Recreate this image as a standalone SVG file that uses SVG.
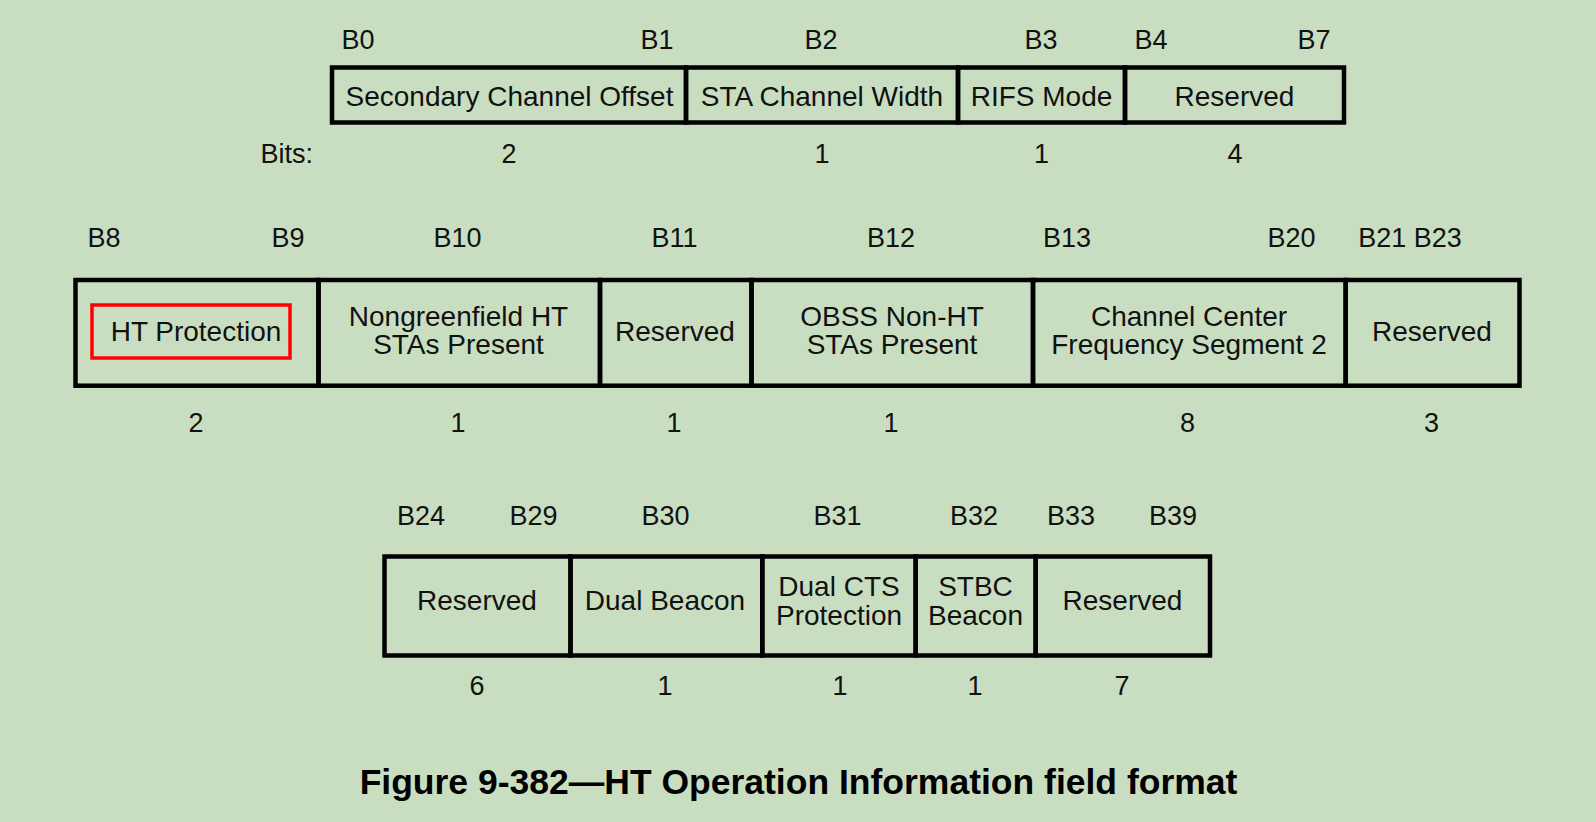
<svg xmlns="http://www.w3.org/2000/svg" width="1596" height="822" viewBox="0 0 1596 822">
  <style>
    .cell { fill: none; stroke: #000; stroke-width: 4.5; }
    .t { font-family: "Liberation Sans", Arial, sans-serif; font-size: 28px; fill: #111; text-anchor: middle; }
    .lbl { font-family: "Liberation Sans", Arial, sans-serif; font-size: 27px; fill: #111; text-anchor: middle; }
    .title { font-family: "Liberation Sans", Arial, sans-serif; font-size: 35.5px; font-weight: bold; fill: #000; text-anchor: middle; }
    .hl { fill: none; stroke: #f00; stroke-width: 3.5; }
  </style>
  <rect x="0" y="0" width="1596" height="822" fill="#C9DEC1"/>

  <!-- Row 1 -->
  <g id="row1-labels">
    <text class="lbl" x="358" y="48.5">B0</text>
    <text class="lbl" x="657" y="48.5">B1</text>
    <text class="lbl" x="821" y="48.5">B2</text>
    <text class="lbl" x="1041" y="48.5">B3</text>
    <text class="lbl" x="1151" y="48.5">B4</text>
    <text class="lbl" x="1314" y="48.5">B7</text>
  </g>
  <g id="f-secondary-channel-offset">
    <rect class="cell" x="332" y="67.5" width="354" height="55"/>
    <text class="t" x="509.5" y="105.5">Secondary Channel Offset</text>
  </g>
  <g id="f-sta-channel-width">
    <rect class="cell" x="686" y="67.5" width="272" height="55"/>
    <text class="t" x="822" y="105.5">STA Channel Width</text>
  </g>
  <g id="f-rifs-mode">
    <rect class="cell" x="958" y="67.5" width="167" height="55"/>
    <text class="t" x="1041.5" y="105.5">RIFS Mode</text>
  </g>
  <g id="f-reserved-1">
    <rect class="cell" x="1125" y="67.5" width="219" height="55"/>
    <text class="t" x="1234.5" y="105.5">Reserved</text>
  </g>
  <g id="row1-bits">
    <text class="lbl" x="313" y="162.5" style="text-anchor:end">Bits:</text>
    <text class="lbl" x="509" y="162.5">2</text>
    <text class="lbl" x="822" y="162.5">1</text>
    <text class="lbl" x="1041.5" y="162.5">1</text>
    <text class="lbl" x="1235" y="162.5">4</text>
  </g>

  <!-- Row 2 -->
  <g id="row2-labels">
    <text class="lbl" x="104" y="247">B8</text>
    <text class="lbl" x="288" y="247">B9</text>
    <text class="lbl" x="457.5" y="247">B10</text>
    <text class="lbl" x="674.5" y="247">B11</text>
    <text class="lbl" x="891" y="247">B12</text>
    <text class="lbl" x="1067" y="247">B13</text>
    <text class="lbl" x="1291.5" y="247">B20</text>
    <text class="lbl" x="1410" y="247">B21 B23</text>
  </g>
  <g id="f-ht-protection">
    <rect class="cell" x="75.5" y="280" width="243" height="105.7"/>
    <rect class="hl" x="92" y="305" width="198" height="53"/>
    <text class="t" x="196" y="341">HT Protection</text>
  </g>
  <g id="f-nongreenfield">
    <rect class="cell" x="318.5" y="280" width="281.5" height="105.7"/>
    <text class="t" x="458.5" y="325.5">Nongreenfield HT</text>
    <text class="t" x="458.5" y="354">STAs Present</text>
  </g>
  <g id="f-reserved-2">
    <rect class="cell" x="600" y="280" width="151.5" height="105.7"/>
    <text class="t" x="675" y="340.5">Reserved</text>
  </g>
  <g id="f-obss">
    <rect class="cell" x="751.5" y="280" width="281.5" height="105.7"/>
    <text class="t" x="892" y="325.5">OBSS Non-HT</text>
    <text class="t" x="892" y="354">STAs Present</text>
  </g>
  <g id="f-ccfs2">
    <rect class="cell" x="1033" y="280" width="312.7" height="105.7"/>
    <text class="t" x="1189" y="325.5">Channel Center</text>
    <text class="t" x="1189" y="354">Frequency Segment 2</text>
  </g>
  <g id="f-reserved-3">
    <rect class="cell" x="1345.7" y="280" width="173.8" height="105.7"/>
    <text class="t" x="1432" y="340.5">Reserved</text>
  </g>
  <g id="row2-bits">
    <text class="lbl" x="196" y="431.5">2</text>
    <text class="lbl" x="458" y="431.5">1</text>
    <text class="lbl" x="674" y="431.5">1</text>
    <text class="lbl" x="891" y="431.5">1</text>
    <text class="lbl" x="1187.5" y="431.5">8</text>
    <text class="lbl" x="1431.5" y="431.5">3</text>
  </g>

  <!-- Row 3 -->
  <g id="row3-labels">
    <text class="lbl" x="421" y="524.5">B24</text>
    <text class="lbl" x="533.5" y="524.5">B29</text>
    <text class="lbl" x="665.5" y="524.5">B30</text>
    <text class="lbl" x="837.5" y="524.5">B31</text>
    <text class="lbl" x="974" y="524.5">B32</text>
    <text class="lbl" x="1071" y="524.5">B33</text>
    <text class="lbl" x="1173" y="524.5">B39</text>
  </g>
  <g id="f-reserved-4">
    <rect class="cell" x="384.5" y="556.5" width="186" height="99"/>
    <text class="t" x="477" y="609.5">Reserved</text>
  </g>
  <g id="f-dual-beacon">
    <rect class="cell" x="570.5" y="556.5" width="191.8" height="99"/>
    <text class="t" x="665" y="609.5">Dual Beacon</text>
  </g>
  <g id="f-dual-cts">
    <rect class="cell" x="762.3" y="556.5" width="153.4" height="99"/>
    <text class="t" x="839" y="596">Dual CTS</text>
    <text class="t" x="839" y="624.5">Protection</text>
  </g>
  <g id="f-stbc-beacon">
    <rect class="cell" x="915.7" y="556.5" width="120" height="99"/>
    <text class="t" x="975.5" y="596">STBC</text>
    <text class="t" x="975.5" y="624.5">Beacon</text>
  </g>
  <g id="f-reserved-5">
    <rect class="cell" x="1035.7" y="556.5" width="174.3" height="99"/>
    <text class="t" x="1122.5" y="609.5">Reserved</text>
  </g>
  <g id="row3-bits">
    <text class="lbl" x="477" y="694.5">6</text>
    <text class="lbl" x="665" y="694.5">1</text>
    <text class="lbl" x="840" y="694.5">1</text>
    <text class="lbl" x="975" y="694.5">1</text>
    <text class="lbl" x="1122" y="694.5">7</text>
  </g>

  <g id="caption">
    <text class="title" x="798.5" y="793.5">Figure 9-382—HT Operation Information field format</text>
  </g>
</svg>
